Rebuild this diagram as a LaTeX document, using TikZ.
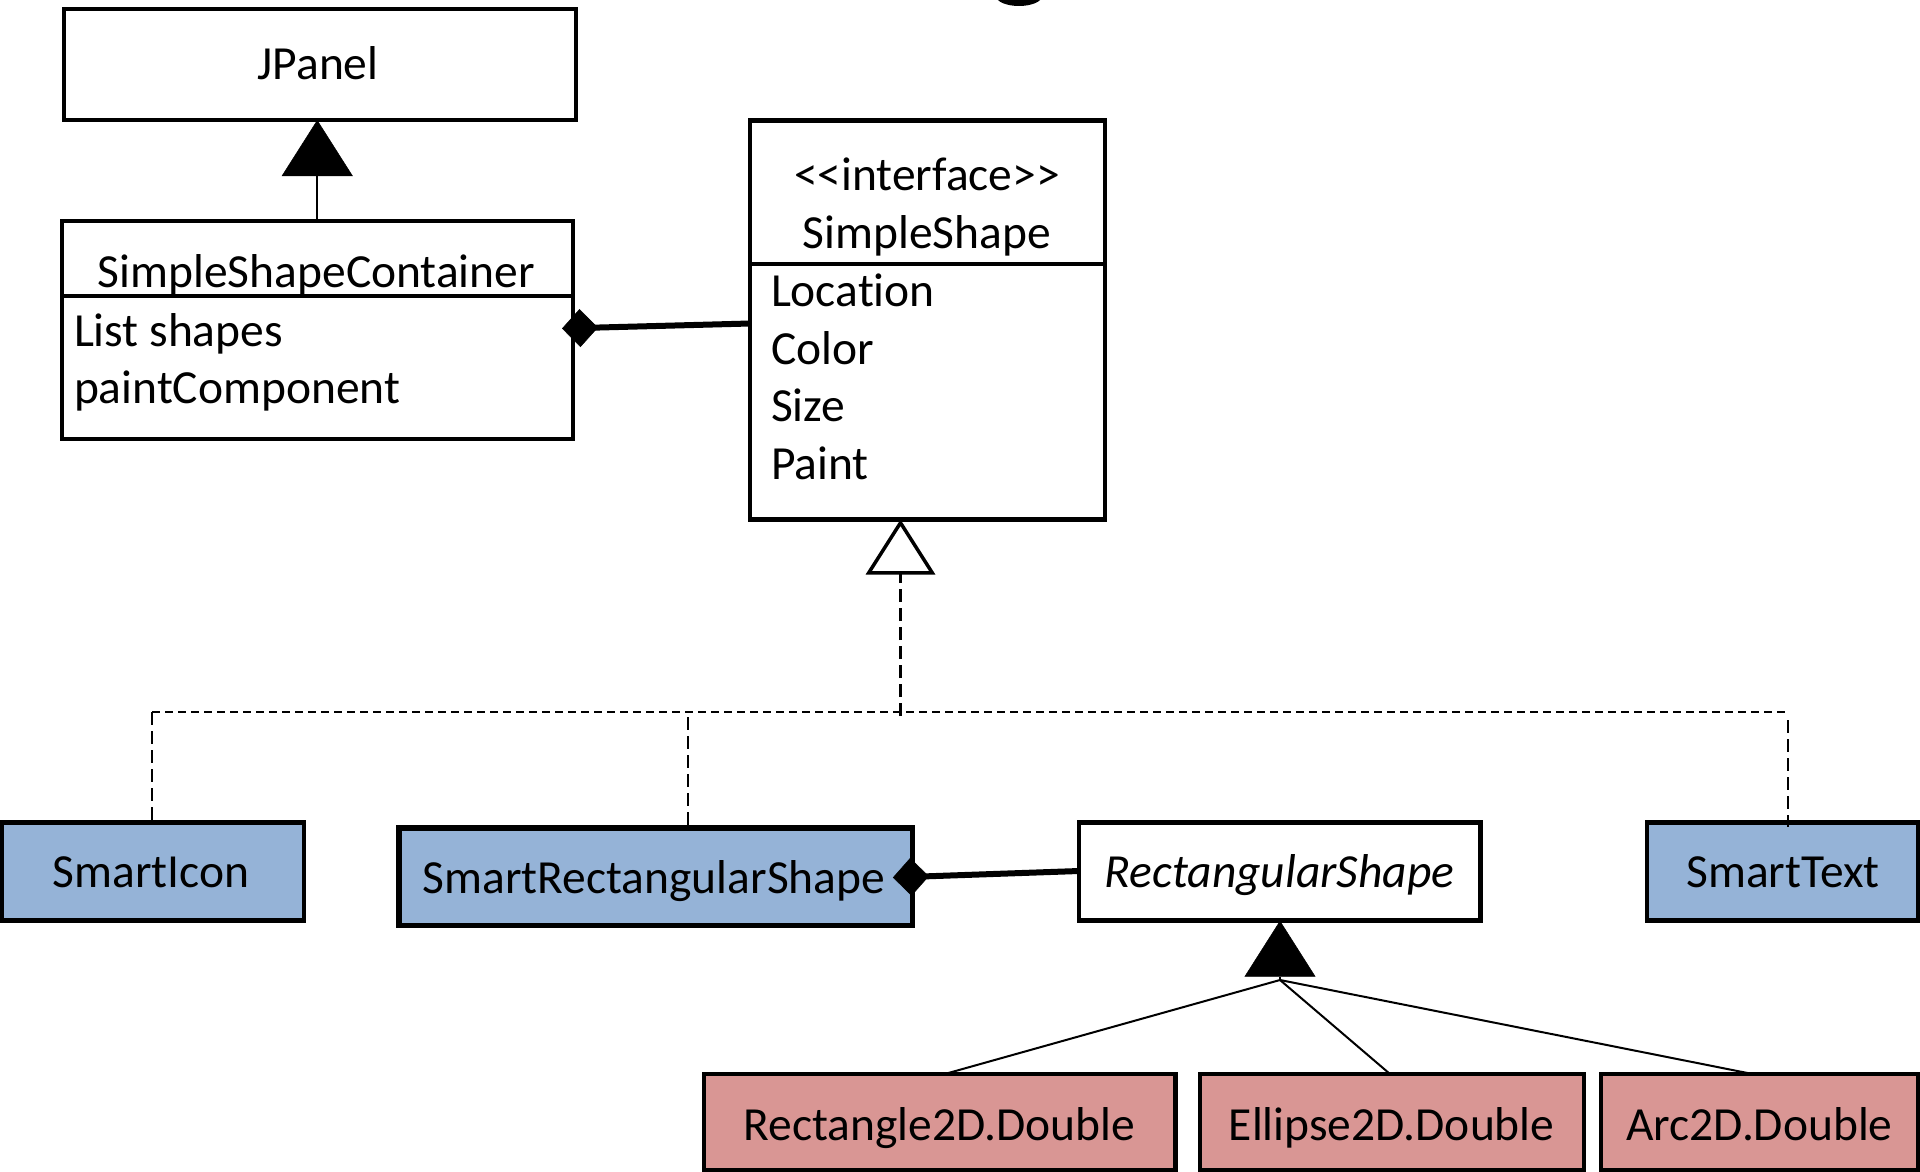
\documentclass[tikz,border=0pt]{standalone}
\usepackage{fontspec}
\setmainfont{Carlito}[Ligatures={TeXOff,NoCommon}]
\usetikzlibrary{arrows.meta}
\definecolor{classblue}{HTML}{95B3D7}
\definecolor{classpink}{HTML}{D99694}

\begin{document}
\begin{tikzpicture}[x=1pt, y=-1pt,
  every node/.style={inner sep=0pt, outer sep=0pt},
  umlbox/.style={draw=black, line width=4pt, fill=white},
  bluebox/.style={umlbox, fill=classblue, line width=4.5pt},
  pinkbox/.style={umlbox, fill=classpink, line width=4.5pt},
  lbl/.style={font=\fontsize{47.5}{57}\selectfont, anchor=base},
  member/.style={lbl, anchor=base west},
  rule/.style={line width=4pt},
  assoc/.style={line width=2pt},
  realize/.style={line width=2.2pt, dash pattern=on 8pt off 5pt},
  drop/.style={line width=2.2pt, dash pattern=on 13pt off 6pt},
  compose/.style={line width=6pt, {Diamond[length=36pt,width=38pt,line width=0.5pt]}-},
  inherit/.style={assoc, -{Triangle[length=56pt,width=71pt,line width=0.5pt]}},
  implement/.style={drop, -{Triangle[length=55pt,width=69pt,fill=white,line width=3.5pt]}}
]
\useasboundingbox (0,0) rectangle (1920,1172);
\clip (0,0) rectangle (1920,1172);
\fill[white] (0,0) rectangle (1920,1172);

% tail of the heading's g, cut by the frame
\fill[black] (1019,-4) ellipse [x radius=23pt, y radius=10pt];

% ---- classes ----
\node[umlbox, minimum width=512pt, minimum height=111pt] (jpanel) at (319.5,64.5) {};
\node[lbl] (jpanelT) at (318,80) {JPanel};

\node[umlbox, minimum width=511.5pt, minimum height=218pt] (ssc) at (317.25,330) {};
\draw[rule] (ssc.west |- 0,295.5) -- (ssc.east |- 0,295.5);
\node[lbl] (sscT) at (316.5,287) {SimpleShapeContainer};
\node[member] (sscA) at (74,346.5) {List shapes};
\node[member] (sscB) at (74,403) {paintComponent};

\node[umlbox, line width=4.5pt, minimum width=355pt, minimum height=399pt] (simple) at (927.5,320) {};
\draw[rule, line width=4.5pt] (simple.west |- 0,264) -- (simple.east |- 0,264);
\node[lbl] (simpleS) at (927,190.7) {<<interface>>};
\node[lbl] (simpleT) at (927,248) {SimpleShape};
\node[member] (simpleA) at (771,306.5) {Location};
\node[member] (simpleB) at (771,364) {Color};
\node[member] (simpleC) at (771,421.5) {Size};
\node[member] (simpleD) at (771,479) {Paint};

\node[bluebox, minimum width=302.5pt, minimum height=98pt] (icon) at (152.75,871.7) {};
\node[lbl] (iconT) at (151,887) {SmartIcon};

\node[bluebox, line width=5.5pt, minimum width=513.4pt, minimum height=97.5pt] (srect) at (655.7,876.75) {};
\node[lbl] (srectT) at (654,893) {SmartRectangularShape};

\node[umlbox, line width=4.5pt, minimum width=401.4pt, minimum height=98pt] (rshape) at (1279.7,871.7) {};
\node[lbl, font=\fontsize{47.5}{57}\selectfont\itshape] (rshapeT) at (1279.6,887) {RectangularShape};

\node[bluebox, minimum width=271pt, minimum height=98pt] (stext) at (1782.5,871.7) {};
\node[lbl] (stextT) at (1783,887) {SmartText};

\node[pinkbox, minimum width=471.5pt, minimum height=96pt] (r2d) at (939.75,1122) {};
\node[lbl] (r2dT) at (939.5,1140) {Rectangle2D.Double};
\node[pinkbox, minimum width=384pt, minimum height=96pt] (e2d) at (1392,1122) {};
\node[lbl] (e2dT) at (1391.7,1140) {Ellipse2D.Double};
\node[pinkbox, minimum width=317pt, minimum height=96pt] (a2d) at (1759.5,1122) {};
\node[lbl] (a2dT) at (1759.5,1140) {Arc2D.Double};

% ---- connectors ----
% SimpleShapeContainer extends JPanel
\draw[inherit] (ssc.north) -- (ssc.north |- jpanel.south);

% SimpleShapeContainer holds SimpleShapes
\draw[compose] ([xshift=-11pt,yshift=1.5pt]ssc.east) -- ([yshift=-3.5pt]simple.west);

% implementations of SimpleShape
\coordinate (bus) at (900.5,712);
\coordinate (busL) at (152,712);
\coordinate (busM) at (688,712);
\coordinate (busR) at (1788,712);
\draw[implement] ([yshift=-4pt]bus) -- (bus |- simple.south);
\draw[realize] (busL) -- (busR);
\draw[drop] (busL) -- (busL |- icon.north);
\draw[drop] ([yshift=-5pt]busM) -- (busM |- srect.north);
\draw[drop] ([yshift=-8pt]busR) -- ([yshift=-4pt]busR |- stext.north);

% SmartRectangularShape wraps a RectangularShape
\draw[compose] ([xshift=-19.5pt,yshift=-0.75pt]srect.east) -- ([yshift=0.7pt]rshape.west);

% subclasses of RectangularShape
\coordinate (gen) at (1280,980);
\draw[inherit] (gen) -- (gen |- rshape.south);
\draw[assoc] ([xshift=5pt]r2d.north) -- (gen);
\draw[assoc] ([xshift=-2pt]e2d.north) -- (gen);
\draw[assoc] ([xshift=-7pt]a2d.north) -- (gen);
\end{tikzpicture}
\end{document}
